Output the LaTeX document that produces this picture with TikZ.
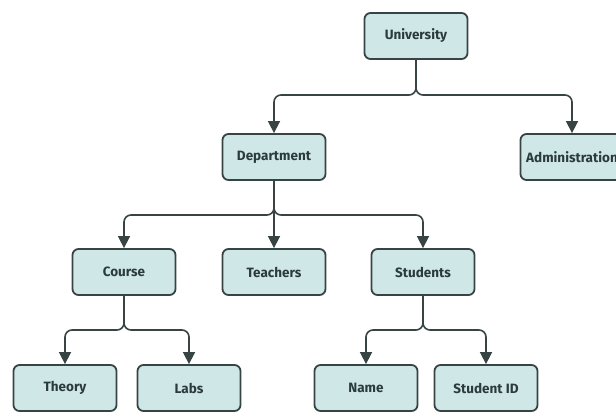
\documentclass[tikz,border=0pt]{standalone}
\usepackage{fontspec}
\setmainfont{Fira Sans}
\usetikzlibrary{arrows.meta}
\definecolor{boxfill}{HTML}{CFE7E6}
\definecolor{boxline}{HTML}{384444}
\definecolor{textcol}{HTML}{2B3A3C}
\begin{document}
\begin{tikzpicture}[x=1pt,y=-1pt,
  box/.style={draw=boxline, line width=1.8pt, fill=boxfill, rounded corners=6pt,
    minimum width=103pt, minimum height=46pt, inner sep=0pt, text=textcol,
    font=\bfseries\fontsize{13.5}{15}\selectfont},
  link/.style={draw=boxline, line width=1.6pt, rounded corners=7pt,
    -{Triangle[length=12pt,width=12pt]}}]
\useasboundingbox (0,0) rectangle (616,412);
\begin{scope}
\clip (0,0) rectangle (616,412);
% tree nodes
\node[box] (uni)   at (416,36)  {University};
\node[box] (dept)  at (274,157) {Department};
\node[box] (admin) at (572,157) {Administration};
\node[box] (course) at (124,272) {Course};
\node[box] (teach)  at (274,272) {Teachers};
\node[box] (stud)   at (423,272) {Students};
\node[box] (theory) at (65,388)  {Theory};
\node[box] (labs)   at (189,388) {Labs};
\node[box] (name)   at (366,388) {Name};
\node[box] (sid)    at (486,388) {Student ID};
% branch points
\coordinate (j1) at (416,95);
\coordinate (j2) at (274,215);
\coordinate (j3) at (124,330);
\coordinate (j4) at (423,330);
% connectors
\draw[link] (uni) -- (j1) -| (dept);
\draw[link] (uni) -- (j1) -| (admin);
\draw[link] (dept) -- (j2) -| (course);
\draw[link] (dept) -- (teach);
\draw[link] (dept) -- (j2) -| (stud);
\draw[link] (course) -- (j3) -| (theory);
\draw[link] (course) -- (j3) -| (labs);
\draw[link] (stud) -- (j4) -| (name);
\draw[link] (stud) -- (j4) -| (sid);
\end{scope}
\end{tikzpicture}
\end{document}
